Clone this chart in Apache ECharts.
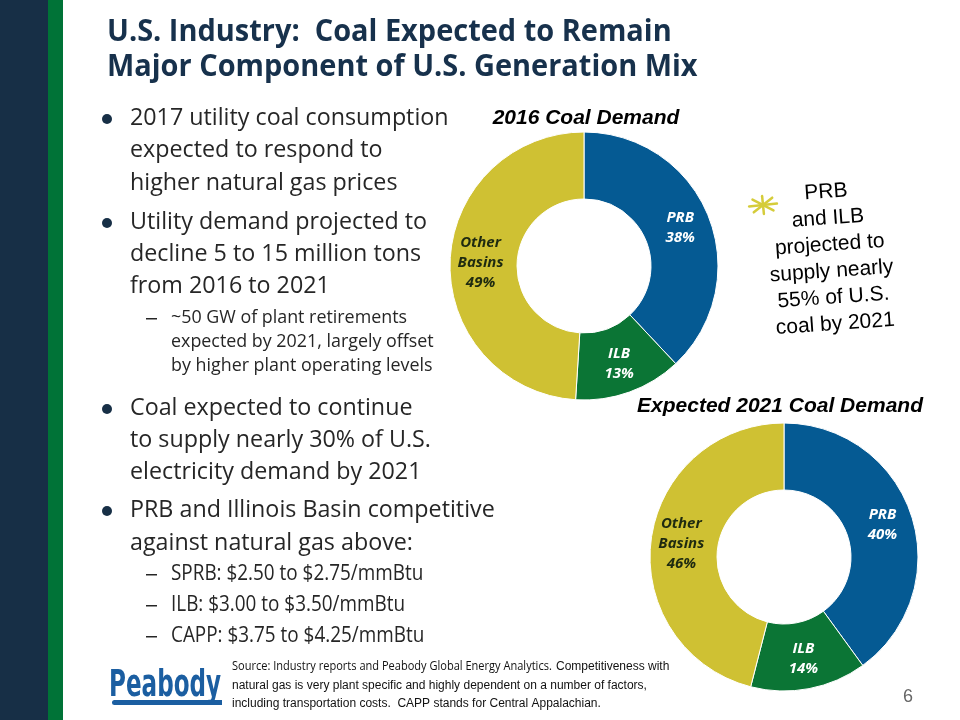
<!DOCTYPE html>
<html>
<head>
<meta charset="utf-8">
<script src="https://cdn.jsdelivr.net/npm/echarts@6/dist/echarts.min.js"></script>
<style>html,body{margin:0;padding:0;background:#fff}#c{width:960px;height:720px}</style>
</head>
<body>
<div id="c"></div>
<script>
// ---- data ----
var basins = ['PRB', 'ILB', 'Other\nBasins'];
var share2016 = [38, 13, 49];
var share2021 = [40, 14, 46];
var chartTitles = ['2016 Coal Demand', 'Expected 2021 Coal Demand'];
var slideTitle = ['U.S. Industry:  Coal Expected to Remain', 'Major Component of U.S. Generation Mix'];
var bullets = [
  {lvl: 1, lines: ['2017 utility coal consumption', 'expected to respond to', 'higher natural gas prices']},
  {lvl: 1, lines: ['Utility demand projected to', 'decline 5 to 15 million tons', 'from 2016 to 2021']},
  {lvl: 3, lines: ['~50 GW of plant retirements', 'expected by 2021, largely offset', 'by higher plant operating levels']},
  {lvl: 1, lines: ['Coal expected to continue', 'to supply nearly 30% of U.S.', 'electricity demand by 2021']},
  {lvl: 1, lines: ['PRB and Illinois Basin competitive', 'against natural gas above:']},
  {lvl: 2, lines: ['SPRB: $2.50 to $2.75/mmBtu']},
  {lvl: 2, lines: ['ILB: $3.00 to $3.50/mmBtu']},
  {lvl: 2, lines: ['CAPP: $3.75 to $4.25/mmBtu']}
];
var note = ['PRB', 'and ILB', 'projected to', 'supply nearly', '55% of U.S.', 'coal by 2021'];
var sourceLines = [
  'natural gas is very plant specific and highly dependent on a number of factors,',
  'including transportation costs.  CAPP stands for Central Appalachian.'
];
var colors = ['#055A93', '#0B7535', '#CFC133'];

var chart = echarts.init(document.getElementById('c'), null, {renderer: 'canvas'});
var g = [];
// side bars
g.push({type: 'rect', shape: {x: 0, y: 0, width: 48, height: 720}, style: {fill: '#172F46'}});
g.push({type: 'rect', shape: {x: 48, y: 0, width: 15, height: 720}, style: {fill: '#007337'}});
// slide title
slideTitle.forEach(function (t, i) {
  g.push({type: 'text', x: 107, y: 32 + i * 35, style: {text: t, fill: '#17314C', font: 'bold 30px "Open Sans"', textVerticalAlign: 'middle'}, scaleX: 0.965});
});
// bullets
var ys = [[118, 150, 183], [222, 254, 286], [318, 342, 366], [408, 440, 472], [510, 543], [574], [605], [636]];
var fonts = {1: '24px "Open Sans"', 2: '21px "Open Sans"', 3: '19px "Open Sans"'};
var scales = {1: 0.97, 2: 0.9, 3: 0.94};
bullets.forEach(function (b, bi) {
  b.lines.forEach(function (t, li) {
    var y = ys[bi][li];
    g.push({type: 'text', x: b.lvl === 1 ? 130 : 171, y: y, style: {text: t, fill: '#262626', font: fonts[b.lvl], textVerticalAlign: 'middle'}, scaleX: scales[b.lvl]});
  });
  if (b.lvl === 1) {
    g.push({type: 'circle', shape: {cx: 107, cy: ys[bi][0] + 1, r: 5}, style: {fill: '#172F46'}});
  } else {
    g.push({type: 'rect', shape: {x: 146, y: ys[bi][0], width: 11, height: 1.5}, style: {fill: '#262626'}});
  }
});
// annotation star
var star = {type: 'group', x: 763, y: 205, rotation: 0.1, children: []};
[0, 45, 90, 135].forEach(function (a) {
  var r = a * Math.PI / 180;
  star.children.push({type: 'line', shape: {x1: -14 * Math.cos(r), y1: -9 * Math.sin(r), x2: 14 * Math.cos(r), y2: 9 * Math.sin(r)}, style: {stroke: '#D5CC3A', lineWidth: 2.5, lineCap: 'round'}});
});
g.push(star);
var noteGroup = {type: 'group', x: 826, y: 192, rotation: 0.07, children: []};
note.forEach(function (t, i) {
  noteGroup.children.push({type: 'text', x: 0, y: i * 26.5, style: {text: t, fill: '#000', font: '21px "Liberation Sans"', textAlign: 'center', textVerticalAlign: 'middle'}});
});
g.push(noteGroup);
// logo
g.push({type: 'text', x: 109, y: 686, style: {text: 'Peabody', fill: '#1B5EA1', font: 'bold 38px "DejaVu Sans Condensed"', textVerticalAlign: 'middle'}, scaleX: 0.675});
g.push({type: 'rect', shape: {x: 112, y: 700, width: 110, height: 5, r: [3, 0, 0, 3]}, style: {fill: '#1B5EA1'}});
// source
g.push({type: 'text', x: 232, y: 667, style: {text: 'Source: Industry reports and Peabody Global Energy Analytics. ', fill: '#111', font: '12px "Open Sans"', textVerticalAlign: 'middle'}, scaleX: 0.92});
g.push({type: 'text', x: 556, y: 667, style: {text: 'Competitiveness with', fill: '#111', font: '12px "Liberation Sans"', textVerticalAlign: 'middle'}});
sourceLines.forEach(function (t, i) {
  g.push({type: 'text', x: 232, y: 686 + i * 18, style: {text: t, fill: '#111', font: '12px "Liberation Sans"', textVerticalAlign: 'middle'}});
});
g.push({type: 'text', x: 908, y: 697, style: {text: '6', fill: '#666', font: '18px "Liberation Sans"', textAlign: 'center', textVerticalAlign: 'middle'}});
// chart titles
g.push({type: 'text', x: 586, y: 118, style: {text: chartTitles[0], fill: '#000', font: 'italic bold 21px "Liberation Sans"', textAlign: 'center', textVerticalAlign: 'middle'}});
g.push({type: 'text', x: 780, y: 406, style: {text: chartTitles[1], fill: '#000', font: 'italic bold 21px "Liberation Sans"', textAlign: 'center', textVerticalAlign: 'middle'}});

function pieData(vals) {
  return vals.map(function (v, i) {
    return {
      name: basins[i], value: v,
      itemStyle: {color: colors[i]},
      label: {color: i === 2 ? '#1E2A10' : '#fff'}
    };
  });
}
function pieSeries(vals, center) {
  return {
    type: 'pie', center: center, radius: [67, 134], startAngle: 90, clockwise: true,
    silent: true, animation: false,
    itemStyle: {borderColor: '#fff', borderWidth: 1},
    label: {show: true, position: 'inside', formatter: '{b}\n{c}%', fontFamily: 'Open Sans', fontStyle: 'italic', fontWeight: 'bold', fontSize: 15, lineHeight: 20},
    labelLine: {show: false},
    data: pieData(vals)
  };
}
chart.setOption({
  animation: false,
  series: [pieSeries(share2016, [584, 266]), pieSeries(share2021, [784, 557])],
  graphic: g
});
</script>
</body>
</html>
